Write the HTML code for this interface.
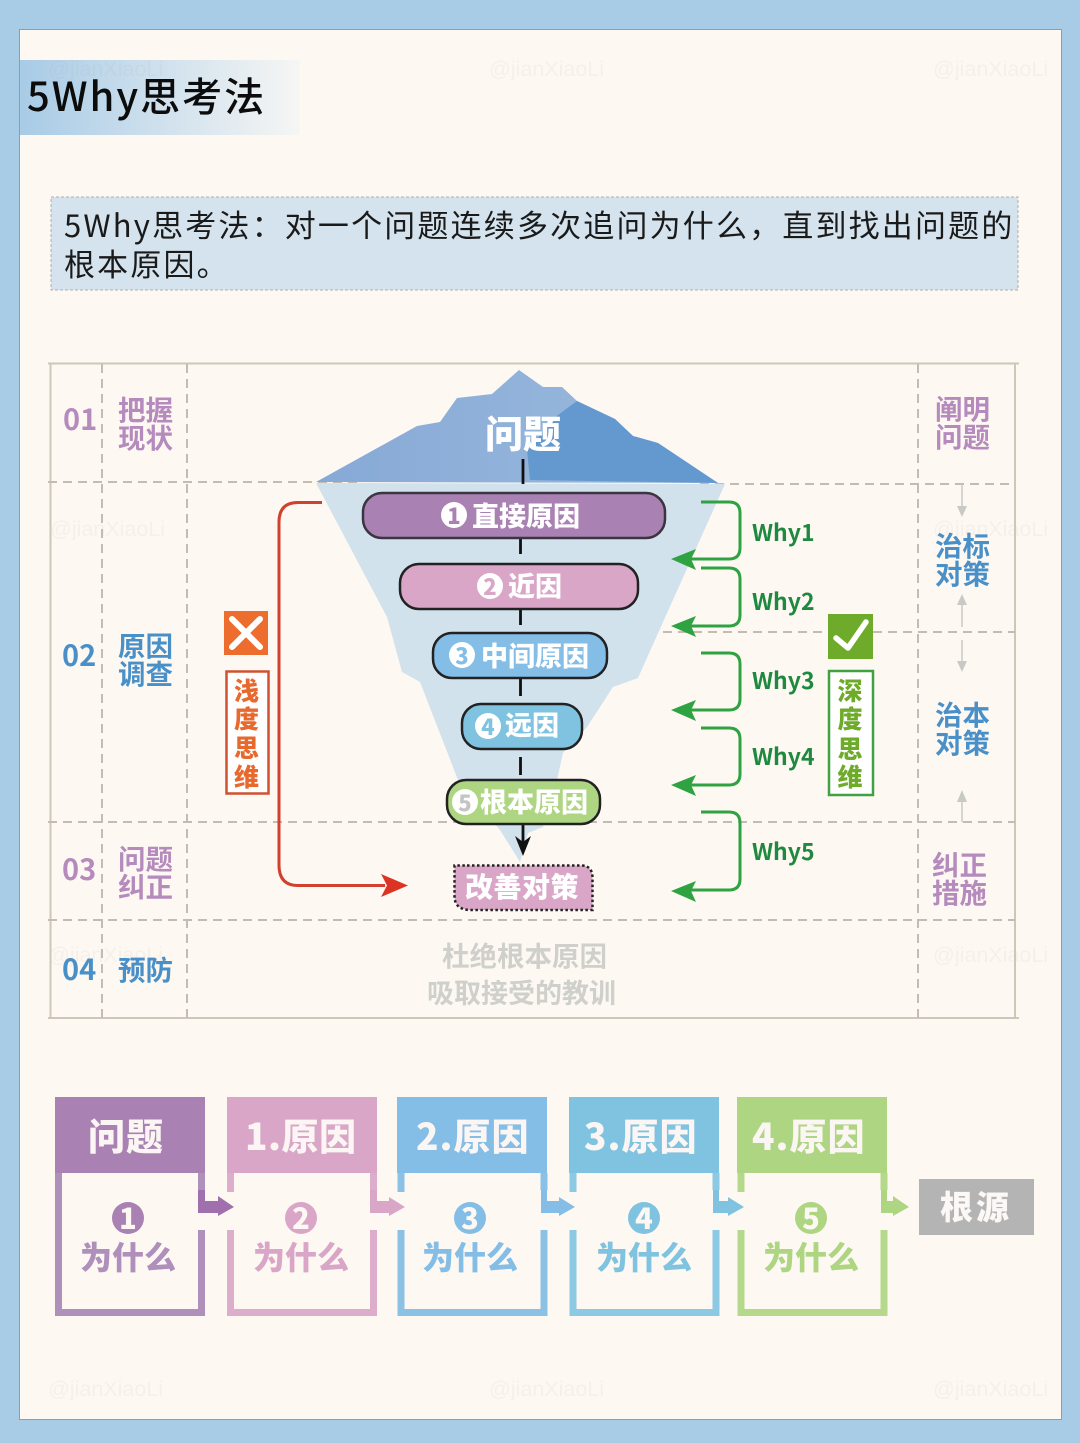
<!DOCTYPE html>
<html lang="zh"><head><meta charset="utf-8"><title>5Why思考法</title>
<style>
html,body{margin:0;padding:0;background:#a8cbe6}
svg{display:block}
text{font-family:"Liberation Sans","Noto Sans CJK SC",sans-serif}
.n{font-family:"Noto Sans CJK SC",sans-serif}
.b{font-family:"Noto Sans CJK SC",sans-serif;font-weight:900}
.m{font-family:"Noto Sans CJK SC",sans-serif;font-weight:700}
.w{fill:#a8a49c;opacity:.09;font-size:21.500px;font-family:"Liberation Sans",sans-serif}
.d{stroke:#c4bcb2;stroke-width:2;stroke-dasharray:9 6;fill:none}
.c{font-family:"Noto Sans CJK SC",sans-serif;font-weight:900;text-anchor:middle}
</style></head><body>
<svg width="1080" height="1443" viewBox="0 0 1080 1443" xmlns="http://www.w3.org/2000/svg">
<defs>
<linearGradient id="tg" x1="0" x2="1" y1="0" y2="0"><stop offset="0" stop-color="#a8cbe6"/><stop offset="1" stop-color="#f6f6f4"/></linearGradient>
<linearGradient id="ib" x1="0" x2="1" y1="0" y2="0"><stop offset="0" stop-color="#86a9d6"/><stop offset="1" stop-color="#9cbbdd"/></linearGradient>
</defs>
<rect width="1080" height="1443" fill="#a8cbe6"/>
<rect x="19.500" y="29.500" width="1042" height="1390" fill="#fef8f2" stroke="#9a9a9a" stroke-width="1"/>
<rect x="20" y="60" width="280" height="75" fill="url(#tg)"/>
<g class="wm">
<text class="w" x="48" y="76">@jianXiaoLi</text><text class="w" x="489" y="76">@jianXiaoLi</text><text class="w" x="933" y="76">@jianXiaoLi</text>
<text class="w" x="50" y="536">@jianXiaoLi</text><text class="w" x="933" y="536">@jianXiaoLi</text>
<text class="w" x="48" y="962">@jianXiaoLi</text><text class="w" x="933" y="962">@jianXiaoLi</text>
<text class="w" x="48" y="1396">@jianXiaoLi</text><text class="w" x="489" y="1396">@jianXiaoLi</text><text class="w" x="933" y="1396">@jianXiaoLi</text>
</g>
<text class="n" x="27" y="111" font-size="40" fill="#0c0c0c" letter-spacing="2" style="font-weight:500">5Why思考法</text>
<rect x="51" y="197" width="967" height="93" fill="#d4e3ed" stroke="#a9b2b8" stroke-width="1" stroke-dasharray="3 2"/>
<text class="n" x="64" y="237" font-size="31" fill="#1a1a1a" letter-spacing="2.170">5Why思考法：对一个问题连续多次追问为什么，直到找出问题的</text>
<text class="n" x="64" y="276" font-size="31" fill="#1a1a1a" letter-spacing="2.170">根本原因。</text>

<!-- table -->
<g fill="none" stroke="#cfc6ba" stroke-width="2">
<path d="M48 363.500H1019M48 1018H1019M50.500 363V1018M1015 363V1018"/>
</g>
<path class="d" d="M102 364V1018M187 364V1018M918 364V1018M48 482H360M700 484H1015M618 632H1015M48 822H1015M48 920H1015"/>

<!-- iceberg -->
<polygon fill="#d2e2ec" points="316,483 725,484 655,640 638,678 613,687 587,727 563,753 557,780 543,827 528,833 520,862 500,830 458,780 420,682 402,672 387,617"/>
<polygon fill="url(#ib)" points="316,482 417,426 440,422 457,398 492,394 519,370 543,387 562,387 577,401 615,419 633,436 658,443 718,483"/>
<polygon fill="#6499cf" points="577,401 558,415 527,450 530,480 718,483 658,443 633,436 615,419"/>
<text class="c" x="523" y="448" font-size="38" fill="#fff">问题</text>
<g stroke="#111" stroke-width="2.800" fill="none">
<path d="M523 459V484M520.500 537V554M520.500 609V625M520.500 678V696M520.500 757V775"/>
</g>
<path d="M523 824V842" stroke="#111" stroke-width="2.800"/>
<polygon points="515,836 523,842 531,836 523,856" fill="#111"/>

<rect x="363" y="493" width="302" height="45" rx="19" fill="#a981b3" stroke="#3a3540" stroke-width="2.500"/>
<circle cx="454" cy="515" r="13" fill="#fff"/><text class="c" x="454" y="524" font-size="22" fill="#a981b3">1</text>
<text class="b" x="472" y="526" font-size="27" fill="#fff">直接原因</text>

<rect x="400" y="564" width="238" height="45" rx="19" fill="#d9a6c7" stroke="#222" stroke-width="2.500"/>
<circle cx="490" cy="586" r="13" fill="#fff"/><text class="c" x="490" y="595" font-size="22" fill="#d9a6c7">2</text>
<text class="b" x="508" y="596" font-size="27" fill="#fff">近因</text>

<rect x="433" y="633" width="174" height="45" rx="19" fill="#84bde6" stroke="#222" stroke-width="2.500"/>
<circle cx="462" cy="655" r="13" fill="#fff"/><text class="c" x="462" y="664" font-size="22" fill="#84bde6">3</text>
<text class="b" x="481" y="666" font-size="27" fill="#fff">中间原因</text>

<rect x="462" y="704" width="120" height="45" rx="19" fill="#7fc3e0" stroke="#222" stroke-width="2.500"/>
<circle cx="488" cy="726" r="13" fill="#fff"/><text class="c" x="488" y="735" font-size="22" fill="#7fc3e0">4</text>
<text class="b" x="505" y="735" font-size="27" fill="#fff">远因</text>

<rect x="447" y="780" width="153" height="44" rx="19" fill="#aed581" stroke="#222" stroke-width="2.500"/>
<circle cx="465" cy="802" r="13" fill="#fff"/><text class="c" x="465" y="811" font-size="22" fill="#c4c4c4">5</text>
<text class="b" x="480" y="812" font-size="27" fill="#fff">根本原因</text>

<path d="M467 865.500H582Q592.500 866 592.500 878V910H471Q454.500 910 454.500 896V865.500Z" fill="#d9a6c7" stroke="#222" stroke-width="2.500" stroke-dasharray="2.500 2.500"/>
<text class="b" x="465" y="897" font-size="28" fill="#fff" letter-spacing=".5">改善对策</text>

<text class="m" x="442" y="966" font-size="27.500" fill="#cfcfcb">杜绝根本原因</text>
<text class="m" x="427" y="1003" font-size="27" fill="#cfcfcb">吸取接受的教训</text>

<!-- red -->
<path d="M322 502.500H298Q279 502.500 279 522V865Q279 885.500 298 885.500H385" fill="none" stroke="#d0412f" stroke-width="3"/>
<polygon points="381,874 408,885.500 381,897 387,885.500" fill="#dc3323"/>
<rect x="224" y="611" width="44" height="44" fill="#ed6d2e"/>
<path d="M232 619L260 647M260 619L232 647" stroke="#fff" stroke-width="6" stroke-linecap="round"/>
<rect x="226.500" y="671.500" width="42" height="122" fill="#fff" stroke="#d0502f" stroke-width="2.500"/>
<text class="c" x="246.500" y="700" font-size="25" fill="#e8692e">浅</text><text class="c" x="246.500" y="728" font-size="25" fill="#e8692e">度</text><text class="c" x="246.500" y="757" font-size="25" fill="#e8692e">思</text><text class="c" x="246.500" y="786" font-size="25" fill="#e8692e">维</text>

<!-- green -->
<g fill="none" stroke="#2fa241" stroke-width="3">
<path d="M701 502H729Q740 502 740 513V548Q740 559 729 559H690"/>
<path d="M701 568H729Q740 568 740 579V615Q740 626 729 626H690"/>
<path d="M701 653H729Q740 653 740 664V699Q740 710 729 710H690"/>
<path d="M701 728H729Q740 728 740 739V774Q740 785 729 785H690"/>
<path d="M701 812H729Q740 812 740 823V879Q740 890 729 890H690"/>
</g>
<g fill="#2fa241">
<polygon points="671,559 696,549 691,559 696,570"/>
<polygon points="671,626 696,616 691,626 696,637"/>
<polygon points="671,710 696,700 691,710 696,721"/>
<polygon points="671,785 696,775 691,785 696,796"/>
<polygon points="671,891 696,881 691,891 696,902"/>
</g>
<text class="m" x="752" y="541" font-size="23" fill="#1f8a3f">Why1</text><text class="m" x="752" y="610" font-size="23" fill="#1f8a3f">Why2</text><text class="m" x="752" y="689" font-size="23" fill="#1f8a3f">Why3</text><text class="m" x="752" y="765" font-size="23" fill="#1f8a3f">Why4</text><text class="m" x="752" y="860" font-size="23" fill="#1f8a3f">Why5</text>
<rect x="828" y="614" width="45" height="45" fill="#6eab2a"/>
<path d="M836 638L848 648L866 622" fill="none" stroke="#fff" stroke-width="5.500" stroke-linecap="round" stroke-linejoin="round"/>
<rect x="829" y="671" width="44" height="124" fill="#fff" stroke="#3fa142" stroke-width="2.500"/>
<text class="c" x="850" y="700" font-size="25" fill="#6eab2a">深</text><text class="c" x="850" y="728" font-size="25" fill="#6eab2a">度</text><text class="c" x="850" y="758" font-size="25" fill="#6eab2a">思</text><text class="c" x="850" y="786" font-size="25" fill="#6eab2a">维</text>

<!-- left labels -->
<text class="m" x="63" y="430" fill="#b58bbd" font-size="29">01</text>
<text class="m" x="62" y="666" fill="#4a90c8" font-size="29">02</text>
<text class="m" x="62" y="880" fill="#b58bbd" font-size="29">03</text>
<text class="m" x="62" y="980" fill="#4a90c8" font-size="29">04</text>
<text class="m" x="118" y="420" font-size="27.500" fill="#b58bbd">把握</text><text class="m" x="118" y="448" font-size="27.500" fill="#b58bbd">现状</text>
<text class="m" x="118" y="656" font-size="27.500" fill="#4a90c8">原因</text><text class="m" x="118" y="684" font-size="27.500" fill="#4a90c8">调查</text>
<text class="m" x="118" y="869" font-size="27.500" fill="#b58bbd">问题</text><text class="m" x="118" y="897" font-size="27.500" fill="#b58bbd">纠正</text>
<text class="m" x="118" y="980" font-size="27.500" fill="#4a90c8">预防</text>
<!-- right labels -->
<text class="m" x="935" y="419" font-size="27.500" fill="#b58bbd">阐明</text><text class="m" x="935" y="447" font-size="27.500" fill="#b58bbd">问题</text>
<text class="m" x="935" y="556" font-size="27.500" fill="#4a90c8">治标</text><text class="m" x="935" y="584" font-size="27.500" fill="#4a90c8">对策</text>
<text class="m" x="935" y="725" font-size="27.500" fill="#4a90c8">治本</text><text class="m" x="935" y="753" font-size="27.500" fill="#4a90c8">对策</text>
<text class="m" x="932" y="875" font-size="27.500" fill="#b58bbd">纠正</text><text class="m" x="932" y="903" font-size="27.500" fill="#b58bbd">措施</text>
<path d="M962 484V512M962 627V600M962 640V665M962 822V796" fill="none" stroke="#c9c9c5" stroke-width="1.500"/>
<g fill="#c9c9c5">
<polygon points="957,506 967,506 962,517"/><polygon points="957,605 967,605 962,594"/><polygon points="957,661 967,661 962,672"/><polygon points="957,802 967,802 962,790"/>
</g>

<!-- bottom boxes -->
<g fill="none" stroke-width="7">
<path d="M58.500 1173V1312.500H201.500V1230M201.500 1173V1190" stroke="#af90bb"/>
<path d="M230.500 1173V1192M230.500 1230V1312.500H373.500V1230M373.500 1173V1190" stroke="#dcaecb"/>
<path d="M401 1173V1192M401 1230V1312.500H544V1230M544 1173V1190" stroke="#8cc1e6"/>
<path d="M573 1173V1192M573 1230V1312.500H716V1230M716 1173V1190" stroke="#8cc9e3"/>
<path d="M741 1173V1192M741 1230V1312.500H884V1230M884 1173V1190" stroke="#b4d98a"/>
</g>
<rect x="55" y="1097" width="150" height="76" fill="#a981b3"/>
<rect x="227" y="1097" width="150" height="76" fill="#d9a6c7"/>
<rect x="397" y="1097" width="150" height="76" fill="#84bde6"/>
<rect x="569" y="1097" width="150" height="76" fill="#7fc3e0"/>
<rect x="737" y="1097" width="150" height="76" fill="#aed581"/>
<text class="b" x="88" y="1150" font-size="37" fill="#fbf5f3" letter-spacing="1">问题</text>
<text class="b" x="245" y="1150" font-size="37" fill="#fbf5f3" letter-spacing=".5">1.原因</text>
<text class="b" x="416" y="1150" font-size="37" fill="#fbf5f3" letter-spacing="1">2.原因</text>
<text class="b" x="584" y="1150" font-size="37" fill="#fbf5f3" letter-spacing="1">3.原因</text>
<text class="b" x="752" y="1150" font-size="37" fill="#fbf5f3" letter-spacing="1">4.原因</text>
<!-- connectors -->
<path d="M198 1190H205V1201H218V1213H198Z" fill="#a06fae"/><polygon points="218,1196 234,1207 218,1216" fill="#a06fae"/>
<path d="M370 1190H377V1201H390V1213H370Z" fill="#d9a6c7"/><polygon points="389,1197 405,1207 389,1216" fill="#d9a6c7"/>
<path d="M541 1190H547V1201H560V1213H541Z" fill="#84bde6"/><polygon points="559,1197 575,1207 559,1216" fill="#84bde6"/>
<path d="M713 1190H719V1201H730V1213H713Z" fill="#7fc3e0"/><polygon points="728,1197 744,1207 728,1216" fill="#7fc3e0"/>
<path d="M881 1190H887V1201H895V1213H881Z" fill="#aed581"/><polygon points="893,1196 909,1207 893,1216" fill="#aed581"/>
<!-- numbers -->
<circle cx="128" cy="1218" r="16" fill="#a981b3"/><text class="c" x="128" y="1229" font-size="29" fill="#fef8f2">1</text>
<circle cx="301" cy="1218" r="16" fill="#d9a6c7"/><text class="c" x="301" y="1229" font-size="29" fill="#fef8f2">2</text>
<circle cx="470" cy="1218" r="16" fill="#84bde6"/><text class="c" x="470" y="1229" font-size="29" fill="#fef8f2">3</text>
<circle cx="644" cy="1218" r="16" fill="#7fc3e0"/><text class="c" x="644" y="1229" font-size="29" fill="#fef8f2">4</text>
<circle cx="811" cy="1218" r="16" fill="#aed581"/><text class="c" x="811" y="1229" font-size="29" fill="#fef8f2">5</text>
<text class="c" x="128" y="1269" font-size="32" fill="#af8fbb">为什么</text>
<text class="c" x="301" y="1269" font-size="32" fill="#d9a6c7">为什么</text>
<text class="c" x="470" y="1269" font-size="32" fill="#84bde6">为什么</text>
<text class="c" x="644" y="1269" font-size="32" fill="#7fc3e0">为什么</text>
<text class="c" x="811" y="1269" font-size="32" fill="#aed581">为什么</text>
<rect x="919" y="1179" width="115" height="56" fill="#b4b4b4"/>
<text class="c" x="976" y="1219" font-size="33" fill="#fbf8f5" letter-spacing="3">根源</text>
</svg>
</body></html>
